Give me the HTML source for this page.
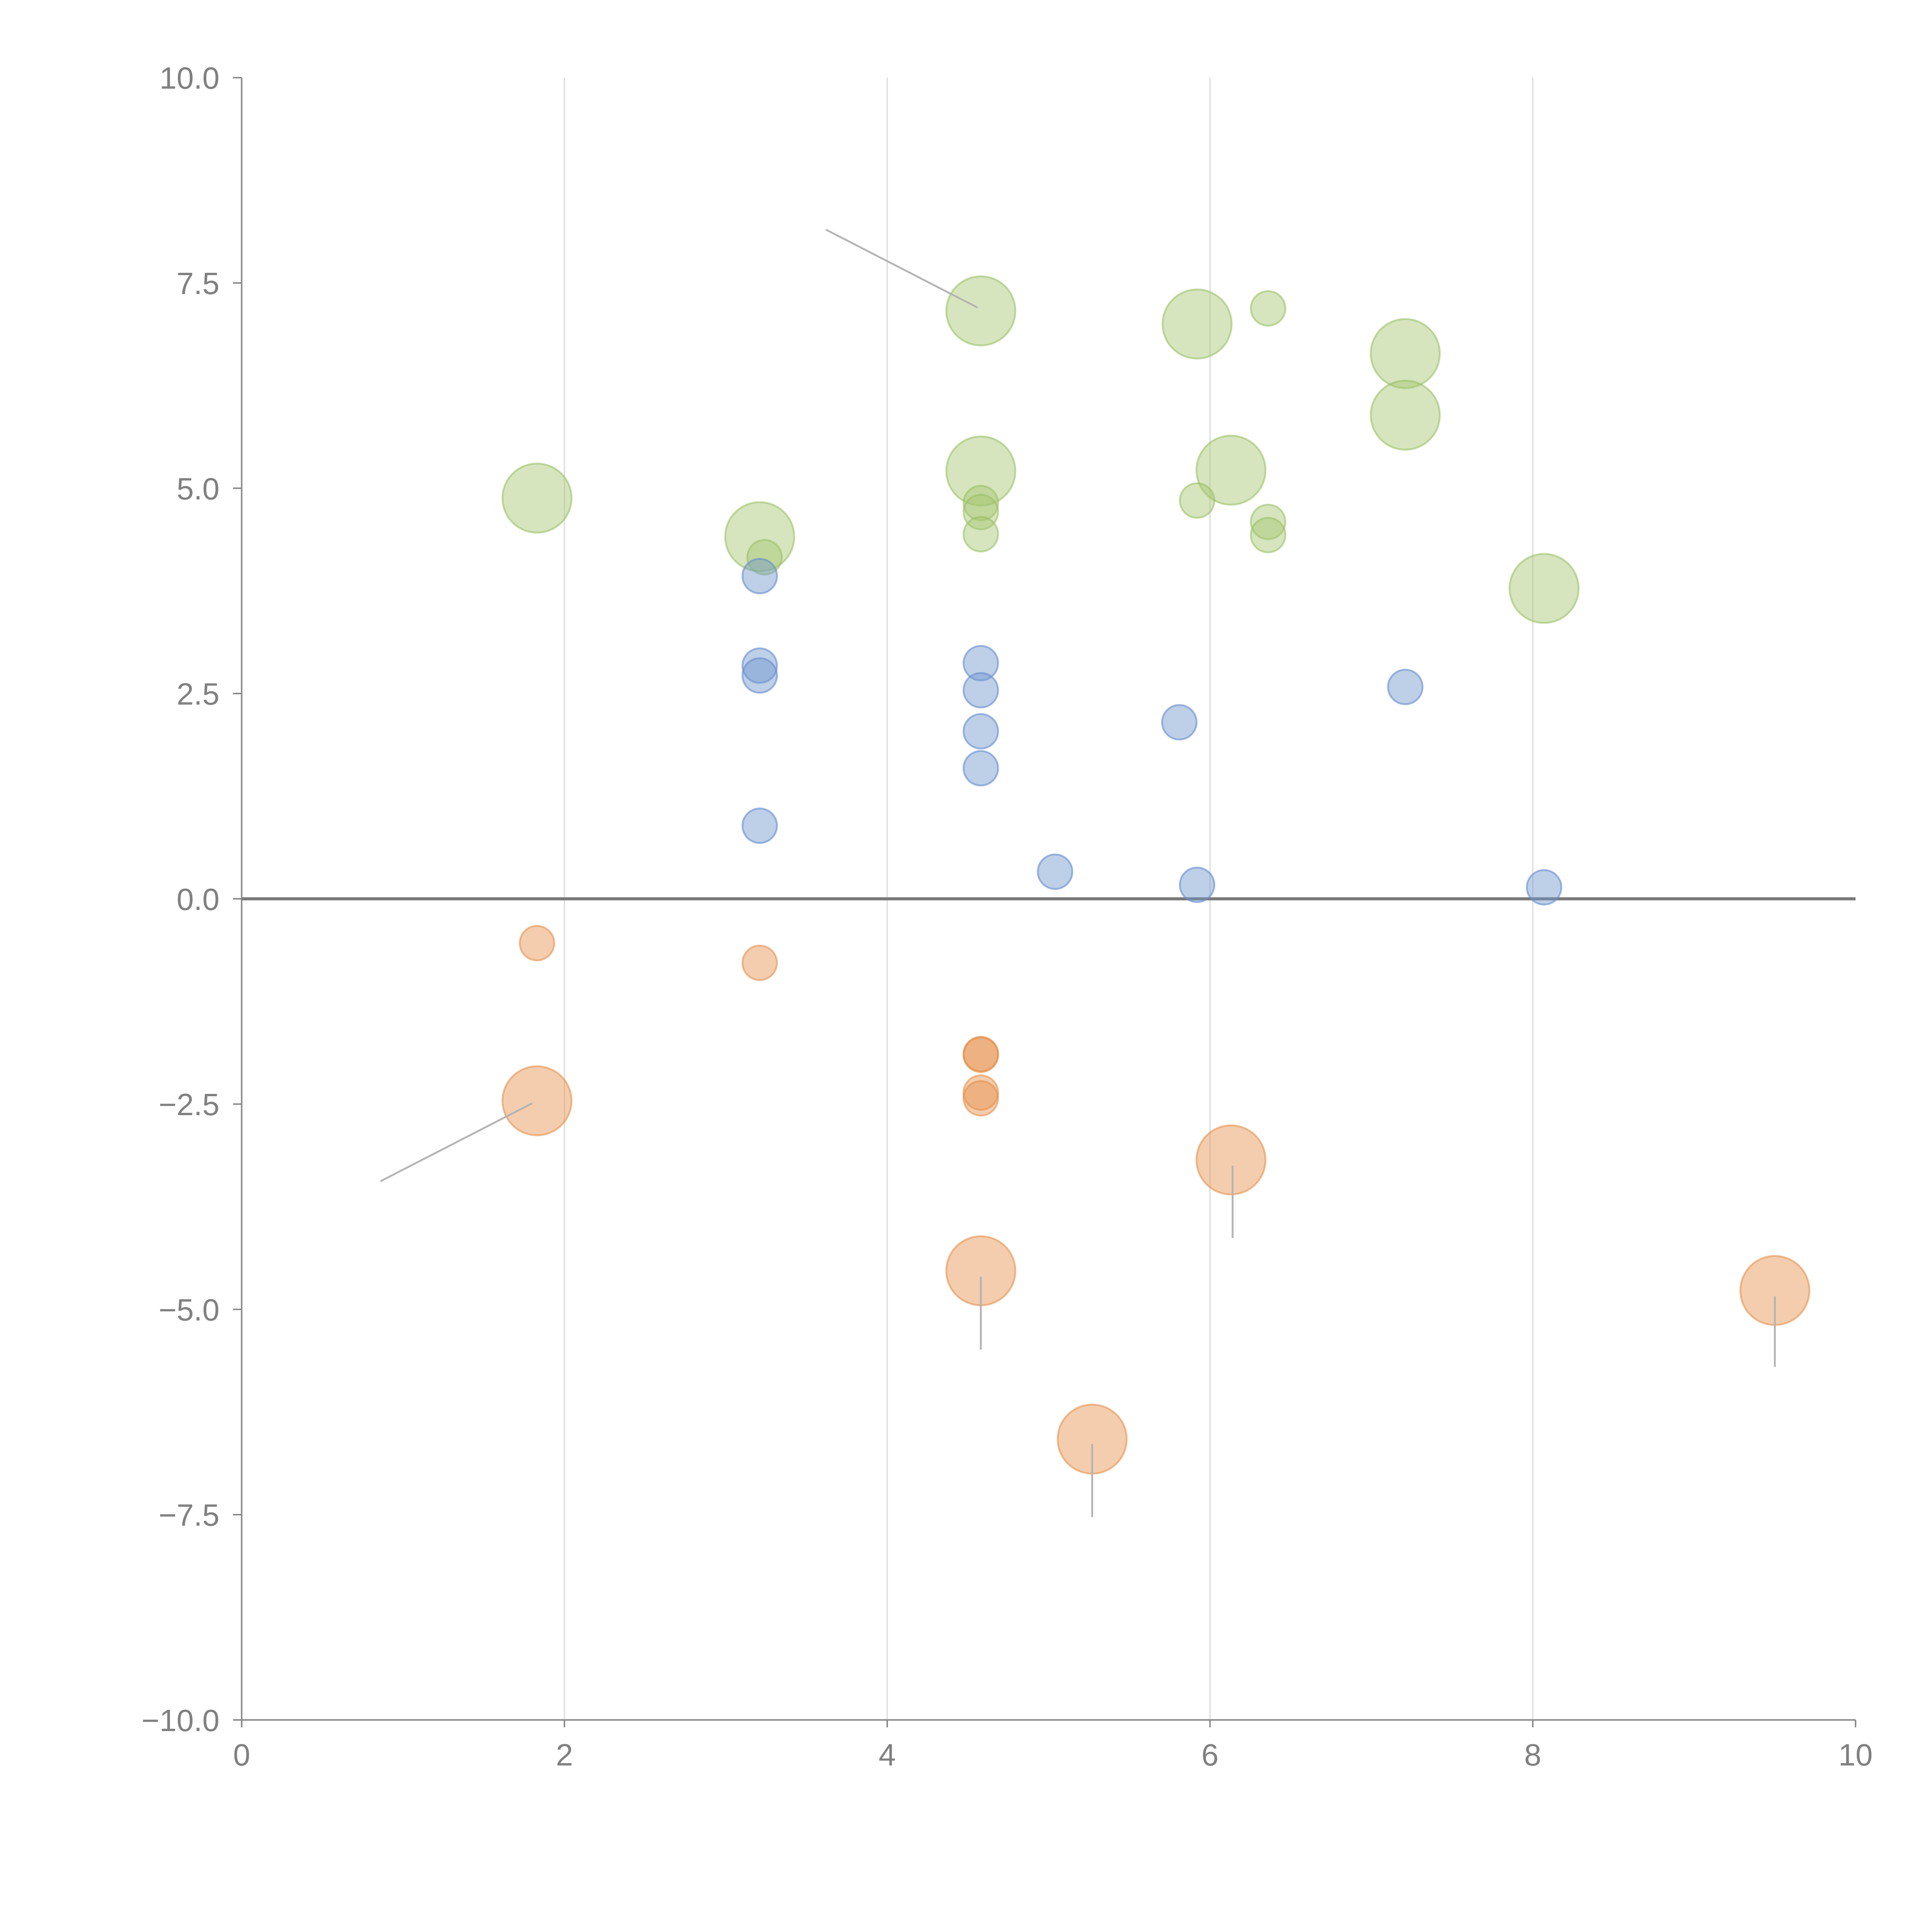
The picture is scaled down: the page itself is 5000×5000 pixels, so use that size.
<!DOCTYPE html>
<html><head><meta charset="utf-8"><style>html,body{margin:0;padding:0;background:#fff}svg{display:block}</style></head>
<body>
<svg id="chart" width="5000" height="5000" viewBox="0 0 1567 1567" xmlns="http://www.w3.org/2000/svg" font-family="'Liberation Sans', sans-serif">
<g id="grid"></g>
<g id="axes"></g>
<g id="marks"></g>
<g id="leaders"></g>
</svg>
<script>
const xTicks = [0, 2, 4, 6, 8, 10];
const yTicks = [-10, -7.5, -5, -2.5, 0, 2.5, 5, 7.5, 10];
const yTickLabels = ["\u221210.0","\u22127.5","\u22125.0","\u22122.5","0.0","2.5","5.0","7.5","10.0"];
const greenX = [1.83,3.21,4.58,4.58,5.92,6.13,7.21,7.21,8.07, 3.24,4.58,4.58,4.58,5.92,6.36,6.36,6.36];
const greenY = [4.88,4.41,7.16,5.21,7.0,5.22,6.64,5.89,3.78, 4.16,4.82,4.71,4.44,4.85,7.19,4.59,4.43];
const greenS = [2,2,2,2,2,2,2,2,2, 1,1,1,1,1,1,1,1];
const blueX = [3.21,3.21,3.21,3.21,4.58,4.58,4.58,4.58,5.04,5.81,5.92,7.21,8.07];
const blueY = [3.93,2.84,2.72,0.89,2.87,2.54,2.04,1.59,0.33,2.15,0.17,2.58,0.14];
const orangeX = [1.83,3.21,4.58,4.58,4.58,4.58, 1.83,4.58,5.27,6.13,9.50];
const orangeY = [-0.54,-0.78,-1.89,-1.90,-2.36,-2.43, -2.46,-4.53,-6.58,-3.18,-4.77];
const orangeS = [1,1,1,1,1,1, 2,2,2,2,2];
const leaderFromX = [3.62, 0.86, 4.58, 5.27, 6.14, 9.50];
const leaderFromY = [8.15, -3.44, -5.49, -7.53, -4.13, -5.7];
const leaderToX = [4.56, 1.80, 4.58, 5.27, 6.14, 9.50];
const leaderToY = [7.2, -2.49, -4.6, -6.64, -3.25, -4.84];

const X0=196, X1=1505, Y0=1395, Y1=63;
const sx = v => X0 + (v-0)/(10-0)*(X1-X0);
const sy = v => Y0 - (v+10)/20*(Y0-Y1);
const NS="http://www.w3.org/2000/svg";
function mk(tag, parent, attrs){const e=document.createElementNS(NS,tag);for(const k in attrs)e.setAttribute(k,attrs[k]);parent.appendChild(e);return e;}
const grid=document.getElementById('grid'), axes=document.getElementById('axes'), marks=document.getElementById('marks'), leaders=document.getElementById('leaders');
xTicks.forEach(t=>{
  if(t>0&&t<10){const l=mk('line',grid,{x1:sx(t),x2:sx(t),y1:Y1,y2:Y0,stroke:'#dcdcdc','stroke-width':1});
  
  }
  const tk=mk('line',axes,{x1:sx(t),x2:sx(t),y1:Y0,y2:Y0+6,stroke:'#888','stroke-width':1.2});
  
  
  const tx=mk('text',axes,{x:sx(t),y:Y0+37,'text-anchor':'middle','font-size':25,fill:'#808080'});
  tx.textContent=t;
  
  
});
yTicks.forEach((t,i)=>{
  const tk=mk('line',axes,{x1:X0-7,x2:X0,y1:sy(t),y2:sy(t),stroke:'#888','stroke-width':1.2});
  
  
  const tx=mk('text',axes,{x:X0-18,y:sy(t)+9,'text-anchor':'end','font-size':25,fill:'#808080'});
  tx.textContent=yTickLabels[i];
  
  
});
const ya=mk('line',axes,{x1:X0,x2:X0,y1:Y1,y2:Y0+6,stroke:'#888','stroke-width':1.2});


const xa=mk('line',axes,{x1:X0,x2:X1,y1:Y0,y2:Y0,stroke:'#888','stroke-width':1.2});


const zl=mk('line',axes,{x1:X0,x2:X1,y1:sy(0),y2:sy(0),stroke:'#7a7a7a','stroke-width':2.5});


function bubble(x,y,r,fill,stroke,name){
  const c=mk('circle',marks,{cx:sx(x),cy:sy(y),r:r,fill:fill,stroke:stroke,'stroke-width':1.5});
  
  
}
greenX.forEach((x,i)=>bubble(x,greenY[i],greenS[i]==2?28:14,'rgba(165,198,110,0.45)','rgba(150,190,95,0.55)','green-bubble'));
blueX.forEach((x,i)=>bubble(x,blueY[i],14,'rgba(110,148,205,0.45)','rgba(100,140,205,0.6)','blue-bubble'));
orangeX.forEach((x,i)=>bubble(x,orangeY[i],orangeS[i]==2?28:14,'rgba(230,145,75,0.45)','rgba(225,140,70,0.55)','orange-bubble'));
leaderFromX.forEach((x,i)=>{
  const l=mk('line',leaders,{x1:sx(x),y1:sy(leaderFromY[i]),x2:sx(leaderToX[i]),y2:sy(leaderToY[i]),stroke:'#b4b4b4','stroke-width':1.5});
  
  
});
</script>
</body></html>
